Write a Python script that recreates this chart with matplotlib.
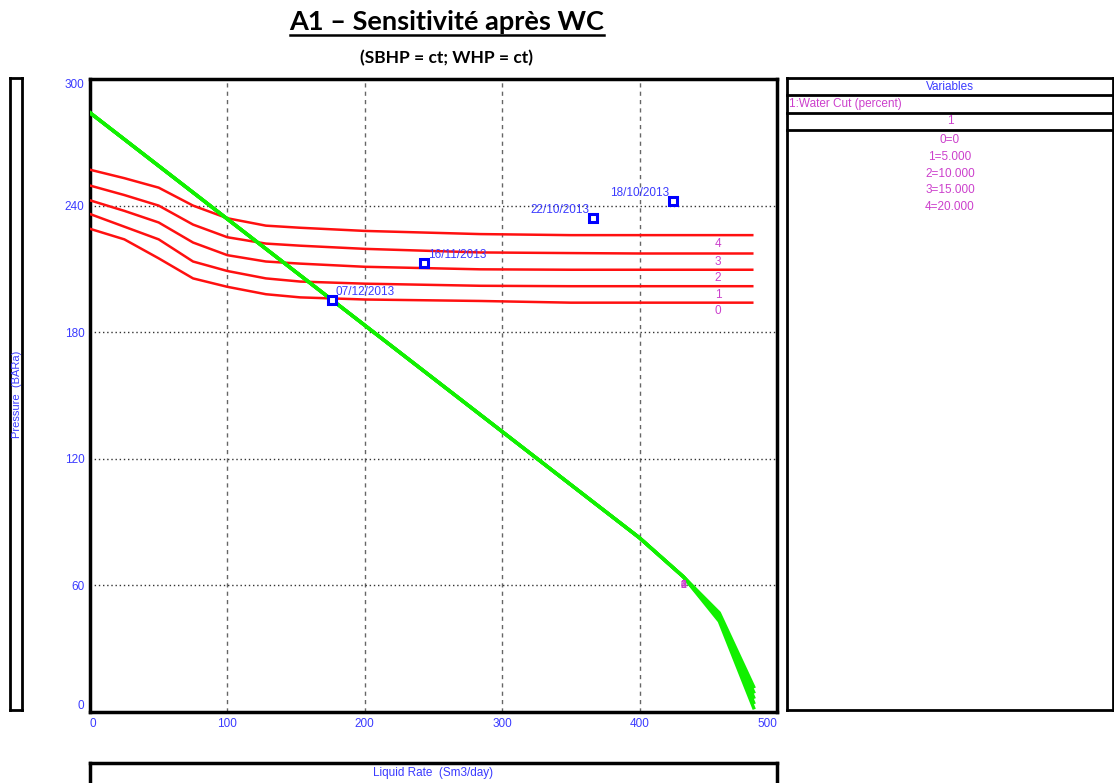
import matplotlib
matplotlib.use("Agg")
import matplotlib.pyplot as plt
from matplotlib.lines import Line2D

# VLP curves (tubing performance) for each water cut, pressure in BARa
vlp_rates = [0, 25, 50, 75, 100, 128, 153, 200, 284, 350, 400, 482]
vlp_wc0 = [229, 224, 215, 205.5, 201.5, 198, 196.5, 195.5, 194.8, 194, 194, 194]
vlp_wc1 = [236, 230, 224, 213.5, 209, 205.5, 204, 203, 202, 201.8, 201.8, 201.8]
vlp_wc2 = [242.5, 237.5, 232, 222.5, 216.5, 213.5, 212.5, 211, 209.8, 209.6, 209.6, 209.6]
vlp_wc3 = [249.5, 245, 240, 231, 225, 222, 221, 219.5, 217.8, 217.5, 217.3, 217.3]
vlp_wc4 = [257, 253, 248.5, 240, 234, 230.5, 229.5, 228, 226.5, 226, 226, 226]
vlp_curves = [vlp_wc0, vlp_wc1, vlp_wc2, vlp_wc3, vlp_wc4]
curve_labels = ["0", "1", "2", "3", "4"]

# IPR curves, nearly identical until the high rate end
ipr_rates = [0, 400, 432, 458, 483]
ipr_wc0 = [284, 82.5, 64, 47, 12]
ipr_wc1 = [284, 82.5, 64, 46, 9.5]
ipr_wc2 = [284, 82.5, 64, 45, 7]
ipr_wc3 = [284, 82.5, 64, 44, 4.5]
ipr_wc4 = [284, 82.5, 64, 43, 2]
ipr_curves = [ipr_wc0, ipr_wc1, ipr_wc2, ipr_wc3, ipr_wc4]

# well test points
test_dates = ["07/12/2013", "16/11/2013", "22/10/2013", "18/10/2013"]
test_rates = [176, 243, 366, 424]
test_press = [195.4, 212.9, 234.2, 242.1]

wc_values = ["0=0", "1=5.000", "2=10.000", "3=15.000", "4=20.000"]

W, H = 1114, 783
BLUE = "#3b3bff"
MAG = "#cc40cc"
NARROW = ["Liberation Sans Narrow", "Liberation Sans", "DejaVu Sans"]


def fx(px):
    return px / W


def fy(py):
    return 1 - py / H


fig = plt.figure(figsize=(W / 100, H / 100), dpi=100)

# main plot
ax = fig.add_axes([fx(90), fy(712), (777 - 90) / W, (712 - 79) / H])
ax.set_xlim(0, 500)
ax.set_ylim(0, 300)
ax.set_xticks(range(0, 501, 100))
ax.set_yticks(range(0, 301, 60))
ax.tick_params(length=0, colors=BLUE, labelsize=8.5, pad=4)
for lab in ax.get_xticklabels() + ax.get_yticklabels():
    lab.set_family(NARROW)
xl = ax.get_xticklabels()
xl[0].set_ha("left")
xl[-1].set_ha("right")
yl = ax.get_yticklabels()
yl[0].set_va("bottom")
yl[-1].set_va("top")
ax.xaxis.grid(True, linestyle=(0, (3, 3)), color="#666666", lw=1)
ax.yaxis.grid(True, linestyle=(0, (1, 2)), color="#333333", lw=1)
ax.set_axisbelow(True)
for sp in ax.spines.values():
    sp.set_linewidth(2.5)

for pr in vlp_curves:
    ax.plot(vlp_rates, pr, color="#ff1010", lw=1.8, zorder=3)
for lbl, pr in zip(curve_labels, vlp_curves):
    ax.text(457, pr[-1] - 1.2, lbl, color=MAG, fontsize=8.5, family=NARROW,
            ha="center", va="top")

for pr in ipr_curves:
    ax.plot(ipr_rates, pr, color="#11f000", lw=2.4, zorder=4)
for lbl in curve_labels:
    ax.text(432, 60, lbl, color=MAG, fontsize=7.5, family=NARROW,
            ha="center", va="center", zorder=5)

ax.plot(test_rates, test_press, "s", ls="none", ms=6, mfc="white",
        mec="#0000ff", mew=2.2, zorder=6)
for d, q, p in zip(test_dates, test_rates, test_press):
    if q > 300:
        ax.annotate(d, (q, p), xytext=(-3, 2), textcoords="offset pixels",
                    ha="right", va="bottom", color=BLUE, fontsize=8.5, family=NARROW)
    else:
        ax.annotate(d, (q, p), xytext=(4, 2), textcoords="offset pixels",
                    ha="left", va="bottom", color=BLUE, fontsize=8.5, family=NARROW)

# y axis title box
ay = fig.add_axes([fx(10), fy(710), 12 / W, (710 - 78) / H])
ay.set_xticks([])
ay.set_yticks([])
for sp in ay.spines.values():
    sp.set_linewidth(2)
ay.text(0.55, 0.5, "Pressure  (BARa)", rotation=90, color=BLUE, transform=ay.transAxes,
        fontsize=8, ha="center", va="center", rotation_mode="anchor",
        family=["Liberation Sans", "DejaVu Sans"])

# x axis title box, runs off the bottom edge
axb = fig.add_axes([fx(90), fy(795), (777 - 90) / W, (795 - 763) / H])
axb.set_xticks([])
axb.set_yticks([])
for sp in axb.spines.values():
    sp.set_linewidth(2.5)
fig.text(fx(433), fy(773), "Liquid Rate  (Sm3/day)", color=BLUE, fontsize=8.5,
         ha="center", va="center", family=NARROW)

# variables panel
ar = fig.add_axes([fx(787), fy(710), (1113 - 787) / W, (710 - 78) / H])
ar.set_xticks([])
ar.set_yticks([])
for sp in ar.spines.values():
    sp.set_linewidth(2)
for yrow in [95, 112.5, 130]:
    fig.add_artist(Line2D([fx(787), fx(1113)], [fy(yrow), fy(yrow)], color="black", lw=2))
fig.text(fx(950), fy(87), "Variables", color=BLUE, fontsize=8.5, ha="center",
         va="center", family=NARROW)
fig.text(fx(789), fy(104), "1:Water Cut (percent)", color=MAG, fontsize=8.5,
         ha="left", va="center", family=NARROW)
fig.text(fx(950), fy(121.5), "1", color=MAG, fontsize=8.5, ha="center",
         va="center", family=NARROW)
for i, s in enumerate(wc_values):
    fig.text(fx(950), fy(140 + 16.8 * i), s, color=MAG, fontsize=8.5,
             ha="center", va="center", family=NARROW)

# titles
title = fig.text(fx(447), fy(22), "A1 \u2013 Sensitivit\u00e9 apr\u00e8s WC", fontsize=19.5,
                 weight="bold", ha="center", va="center", family=["Lato", "DejaVu Sans"])
fig.text(fx(447), fy(58), "(SBHP = ct; WHP = ct)", fontsize=12.5, weight="bold",
         ha="center", va="center", family=["Lato", "DejaVu Sans"])

fig.canvas.draw()
bb = title.get_window_extent()
fig.add_artist(Line2D([bb.x0 / W, bb.x1 / W], [fy(35), fy(35)], color="black", lw=1.8))

fig.savefig("out.png", dpi=100)
